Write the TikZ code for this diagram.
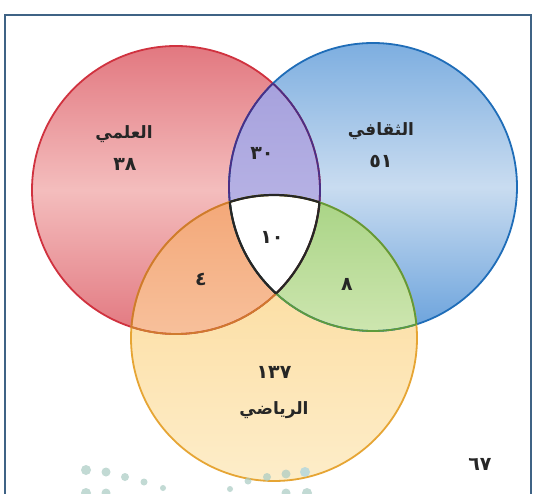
\documentclass[tikz,border=0pt]{standalone}
\usepackage{fontspec}
\newfontfamily\arabicfont[Script=Arabic]{DejaVu Sans}
\TeXXeTstate=1
\definecolor{redA}{HTML}{E27880}
\definecolor{redB}{HTML}{F4BDBD}
\definecolor{redLine}{HTML}{D0323F}
\definecolor{blueA}{HTML}{7DAEE0}
\definecolor{blueB}{HTML}{C9DCF0}
\definecolor{blueC}{HTML}{6AA2DC}
\definecolor{blueLine}{HTML}{1F6DB8}
\definecolor{yelA}{HTML}{FCD894}
\definecolor{yelB}{HTML}{FDEDC9}
\definecolor{yelLine}{HTML}{E6A534}
\definecolor{purA}{HTML}{A6A1DD}
\definecolor{purB}{HTML}{C3BFEA}
\definecolor{purLine}{HTML}{4A2F86}
\definecolor{orA}{HTML}{F3A676}
\definecolor{orB}{HTML}{F8C39F}
\definecolor{orLine}{HTML}{CF7A2E}
\definecolor{grA}{HTML}{A7D383}
\definecolor{grB}{HTML}{D2E8B5}
\definecolor{grLine}{HTML}{5E9B3B}
\definecolor{frameC}{HTML}{3F6385}
\definecolor{dotC}{HTML}{A9CBC3}
\definecolor{dotD}{HTML}{A6D3E2}
\tikzset{
  lbl/.style={font=\arabicfont\bfseries\fontsize{17}{19}\selectfont, text=black!85, inner sep=0pt},
  num/.style={font=\arabicfont\bfseries\fontsize{19}{21}\selectfont, text=black!85, inner sep=0pt},
  ring/.style={line width=1.8pt},
  dotty/.style={fill=dotC, draw=none, opacity=0.7}
}
\begin{document}
\begin{tikzpicture}[x=1pt,y=-1pt]
\useasboundingbox (0,0) rectangle (541,494);
\fill[white] (0,0) rectangle (541,494);
% circle geometry
\coordinate (cR) at (176,190);
\coordinate (cB) at (373,187);
\coordinate (cY) at (274,338);
\def\rR{144}\def\rB{144}\def\rY{143}
% base circles
\shade[top color=redA, bottom color=redA, middle color=redB] (cR) circle[radius=\rR];
\shade[top color=blueA, bottom color=blueC, middle color=blueB] (cB) circle[radius=\rB];
\shade[top color=yelA, bottom color=yelB] (cY) circle[radius=\rY];
% red & blue lens
\begin{scope}
 \clip (cR) circle[radius=\rR];
 \clip (cB) circle[radius=\rB];
 \shade[top color=purA, bottom color=purB] (220,80) rectangle (330,300);
\end{scope}
% red & yellow lens
\begin{scope}
 \clip (cR) circle[radius=\rR];
 \clip (cY) circle[radius=\rY];
 \shade[top color=orA, bottom color=orB] (120,190) rectangle (330,350);
\end{scope}
% blue & yellow lens
\begin{scope}
 \clip (cB) circle[radius=\rB];
 \clip (cY) circle[radius=\rY];
 \shade[top color=grA, bottom color=grB] (220,190) rectangle (430,350);
\end{scope}
% centre
\begin{scope}
 \clip (cR) circle[radius=\rR];
 \clip (cB) circle[radius=\rB];
 \clip (cY) circle[radius=\rY];
 \fill[white] (200,180) rectangle (350,310);
\end{scope}
% outlines
\draw[ring, redLine] (cR) circle[radius=\rR];
\draw[ring, blueLine] (cB) circle[radius=\rB];
\draw[ring, yelLine] (cY) circle[radius=\rY];
\begin{scope}\clip (cB) circle[radius=\rB];
 \draw[ring, purLine] (cR) circle[radius=\rR];\end{scope}
\begin{scope}\clip (cR) circle[radius=\rR];
 \draw[ring, purLine] (cB) circle[radius=\rB];\end{scope}
\begin{scope}\clip (cY) circle[radius=\rY];
 \draw[ring, orLine] (cR) circle[radius=\rR];\end{scope}
\begin{scope}\clip (cR) circle[radius=\rR];
 \draw[ring, orLine] (cY) circle[radius=\rY];\end{scope}
\begin{scope}\clip (cY) circle[radius=\rY];
 \draw[ring, grLine] (cB) circle[radius=\rB];\end{scope}
\begin{scope}\clip (cB) circle[radius=\rB];
 \draw[ring, grLine] (cY) circle[radius=\rY];\end{scope}
\begin{scope}\clip (cB) circle[radius=\rB];\clip (cY) circle[radius=\rY];
 \draw[ring, line width=2.2pt, black!85] (cR) circle[radius=\rR];\end{scope}
\begin{scope}\clip (cR) circle[radius=\rR];\clip (cY) circle[radius=\rY];
 \draw[ring, line width=2.2pt, black!85] (cB) circle[radius=\rB];\end{scope}
\begin{scope}\clip (cR) circle[radius=\rR];\clip (cB) circle[radius=\rB];
 \draw[ring, line width=2.2pt, black!85] (cY) circle[radius=\rY];\end{scope}
% frame
\draw[frameC, line width=2.5pt] (5,520) -- (5,15) -- (531,15) -- (531,520);
% decorative dots
\fill[dotty] (86,470) circle[radius=5];
\fill[dotty] (106,472) circle[radius=4.5];
\fill[dotty] (125,477) circle[radius=4];
\fill[dotty] (144,482) circle[radius=3.5];
\fill[dotty] (163,488) circle[radius=3];
\fill[dotty] (248,481) circle[radius=3.5];
\fill[dotty] (267,477) circle[radius=4];
\fill[dotty] (286,474) circle[radius=4.5];
\fill[dotty, fill=dotD] (305,472) circle[radius=5];
\fill[dotty] (86,493) circle[radius=5];
\fill[dotty] (106,493) circle[radius=4.5];
\fill[dotty] (230,489) circle[radius=3];
\fill[dotty] (286,493) circle[radius=4.5];
\fill[dotty] (307,493) circle[radius=5];
% labels
\node[lbl] (ilmi) at (124,134) {\beginR العلمي\endR};
\node[num] (n38) at (125,164) {٣٨};
\node[lbl] (thaq) at (381,131) {\beginR الثقافي\endR};
\node[num] (n51) at (381,161) {٥١};
\node[num] (n30) at (262,153) {٣٠};
\node[num] (n10) at (272,237) {١٠};
\node[num] (n4) at (201,279) {٤};
\node[num] (n8) at (347,284) {٨};
\node[num] (n137) at (274,372) {١٣٧};
\node[lbl] (riyadi) at (274,410) {\beginR الرياضي\endR};
\node[num] (p67) at (480,464) {٦٧};
\end{tikzpicture}
\end{document}
